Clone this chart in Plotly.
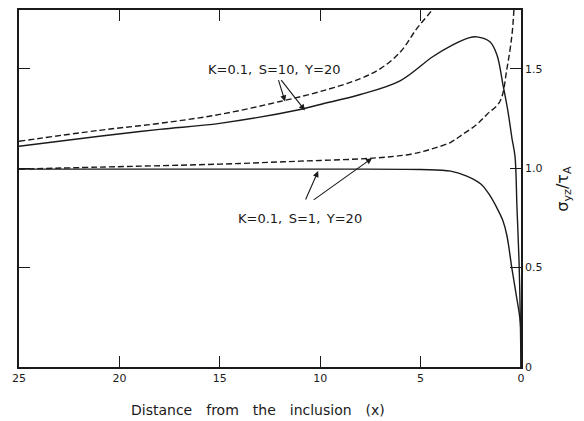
import plotly.graph_objects as go

# Distance from inclusion (x) and sigma_yz / tau_A
s10_solid_x = [25, 21, 18, 15, 11, 10, 8, 6, 4.4, 3.4, 2.6, 2.2, 1.55, 1.2, 0.9, 0.65, 0.45, 0.3, 0.2, 0.1, 0.03, 0]
s10_solid_y = [1.11, 1.16, 1.195, 1.225, 1.295, 1.32, 1.37, 1.44, 1.56, 1.62, 1.655, 1.66, 1.635, 1.57, 1.42, 1.285, 1.15, 1.06, 0.8, 0.54, 0.22, 0]

s10_dash_x = [25, 21, 18, 15, 12, 10, 8, 7, 6, 5.2, 4.4, 4.0]
s10_dash_y = [1.135, 1.19, 1.225, 1.27, 1.335, 1.385, 1.45, 1.5, 1.585, 1.70, 1.8, 1.87]

s1_dash_x = [25, 21, 15, 11, 7.4, 5.5, 4.5, 3.5, 2.9, 2.2, 1.7, 1.05, 0.7, 0.45, 0.35, 0.3]
s1_dash_y = [0.995, 1.005, 1.02, 1.035, 1.05, 1.07, 1.095, 1.13, 1.17, 1.22, 1.27, 1.335, 1.5, 1.67, 1.8, 1.9]

s1_solid_x = [25, 10, 5, 3.5, 2.7, 2.0, 1.6, 1.2, 0.9, 0.7, 0.46, 0.25, 0.03, 0]
s1_solid_y = [0.995, 0.995, 0.993, 0.985, 0.96, 0.92, 0.87, 0.80, 0.735, 0.66, 0.5, 0.37, 0.22, 0]

x_tickvals = [25, 20, 15, 10, 5, 0]
x_ticktext = ["25", "20", "15", "10", "5", "0"]
y_tickvals = [0, 0.5, 1.0, 1.5]
y_ticktext = ["0", "0.5", "1.0", "1.5"]

SP = "\u2002"
label_s10 = "K=0.1," + SP + "S=10," + SP + "Y=20"
label_s1 = "K=0.1," + SP + "S=1," + SP + "Y=20"
x_title = "\u2003".join(["Distance", "from", "the", "inclusion", "(x)"])
y_title = "σ<sub>yz</sub>/τ<sub>A</sub>"

INK = "#1a1a1a"
FONT = "DejaVu Sans"

fig = go.Figure()
for xs, ys, dash in [
    (s10_solid_x, s10_solid_y, "solid"),
    (s10_dash_x, s10_dash_y, "6px,3px"),
    (s1_dash_x, s1_dash_y, "6px,3px"),
    (s1_solid_x, s1_solid_y, "solid"),
]:
    fig.add_trace(go.Scatter(x=xs, y=ys, mode="lines",
                             line=dict(color=INK, width=1.4, dash=dash, shape="spline", smoothing=1.0),
                             showlegend=False, hoverinfo="skip"))

axis_common = dict(showline=True, linecolor=INK, linewidth=1.5, mirror="allticks",
                   ticks="inside", ticklen=11, tickwidth=1.3, tickcolor=INK,
                   showgrid=False, zeroline=False,
                   tickfont=dict(family=FONT, size=11, color=INK))

# page body adds an 8px offset, so the figure is 8px smaller and margins compensate
fig.update_layout(
    width=576, height=413,
    margin=dict(l=11, r=63, t=0, b=54),
    paper_bgcolor="white", plot_bgcolor="white",
    xaxis=dict(range=[25, 0], tickvals=x_tickvals, ticktext=x_ticktext, **axis_common),
    yaxis=dict(range=[0, 1.795], side="right", tickvals=y_tickvals, ticktext=y_ticktext, **axis_common),
    font=dict(family=FONT, color=INK),
)

ann_font = dict(family=FONT, size=13, color=INK)
fig.add_annotation(x=12.28, y=1.495, text=label_s10, showarrow=False, font=ann_font)
fig.add_annotation(x=11.0, y=0.745, text=label_s1, showarrow=False, font=ann_font)

arrows = [
    ((12.1, 1.45), (11.75, 1.335)),
    ((12.0, 1.45), (10.76, 1.29)),
    ((10.76, 0.835), (10.1, 0.985)),
    ((10.4, 0.835), (7.42, 1.05)),
]
for (tx, ty), (hx, hy) in arrows:
    fig.add_annotation(x=hx, y=hy, ax=tx, ay=ty, xref="x", yref="y", axref="x", ayref="y",
                       text="", showarrow=True, arrowhead=2, arrowsize=1.1, arrowwidth=1.1,
                       arrowcolor=INK, standoff=0)

fig.add_annotation(xref="paper", yref="paper", x=0.476, y=-0.12, text=x_title,
                   showarrow=False, font=dict(family=FONT, size=14, color=INK),
                   xanchor="center", yanchor="middle")
fig.add_annotation(xref="paper", yref="paper", x=1.084, y=0.5, text=y_title, textangle=-90,
                   showarrow=False, font=dict(family=FONT, size=16, color=INK),
                   xanchor="center", yanchor="middle")

fig.write_html("out.html")
